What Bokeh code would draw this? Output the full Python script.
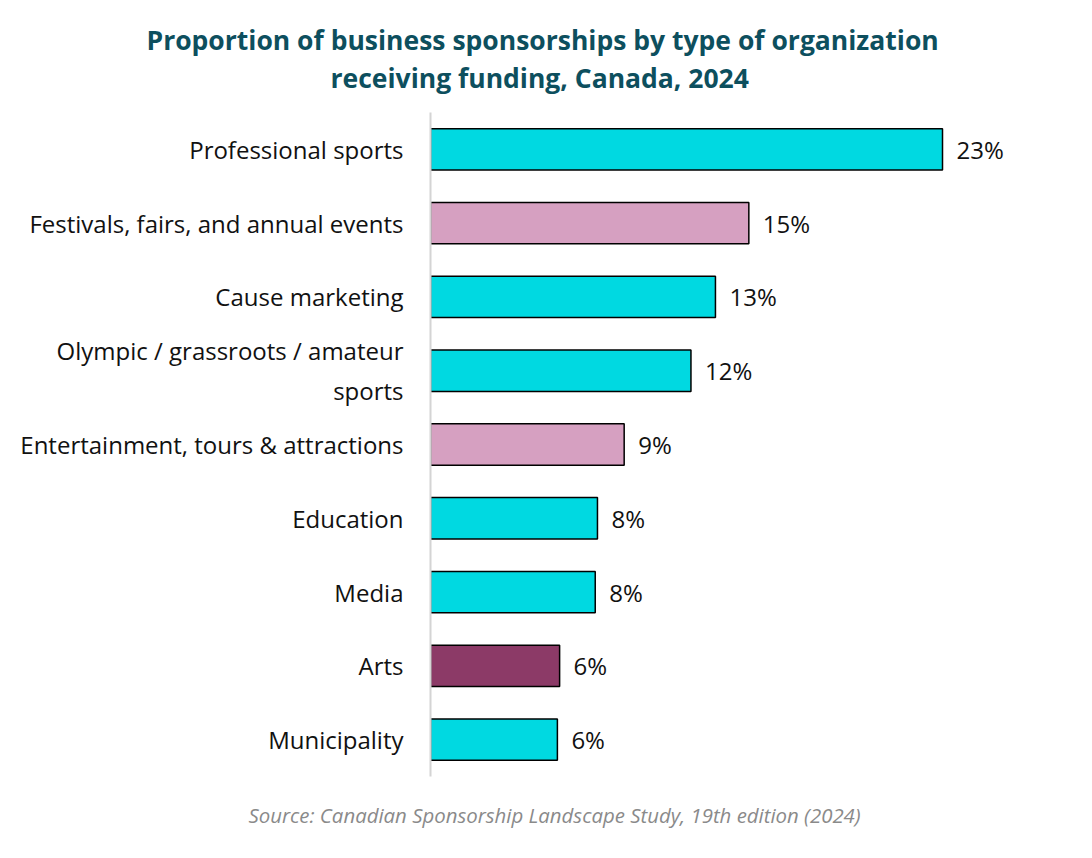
from bokeh.plotting import figure
from bokeh.models import FactorRange, Title, ColumnDataSource
from bokeh.core.properties import value
from bokeh.embed import file_html
from bokeh.resources import INLINE

# data (top to bottom)
categories = ["Professional sports", "Festivals, fairs, and annual events", "Cause marketing",
	"Olympic / grassroots / amateur\nsports", "Entertainment, tours & attractions",
	"Education", "Media", "Arts", "Municipality"]
shares = [23.0, 14.3, 12.8, 11.7, 8.7, 7.5, 7.4, 5.8, 5.7]
share_labels = ["23%", "15%", "13%", "12%", "9%", "8%", "8%", "6%", "6%"]
bar_colors = ["#00d9e1", "#d6a0c1", "#00d9e1", "#00d9e1", "#d6a0c1", "#00d9e1", "#00d9e1", "#8c3a67", "#00d9e1"]

title_lines = ["Proportion of business sponsorships by type of organization", "receiving funding, Canada, 2024"]
source_note = "Source: Canadian Sponsorship Landscape Study, 19th edition (2024)"

FONT = "Open Sans"

def main():
	src = ColumnDataSource(dict(cat=categories, val=shares, lab=share_labels, col=bar_colors))

	p = figure(width=1076, height=850, y_range=FactorRange(factors=list(reversed(categories))),
		x_range=(0, 28.3), output_backend="svg", toolbar_location=None, title=None,
		min_border_left=430, min_border_right=16, min_border_top=112, min_border_bottom=71)
	p.outline_line_color = None
	p.grid.visible = False
	p.xaxis.visible = False

	p.hbar(y="cat", right="val", left=0, height=0.56, source=src, fill_color="col",
		line_color="black", line_width=1.5)
	p.text(x="val", y="cat", text="lab", source=src, x_offset=14, text_align="left",
		text_baseline="middle", text_font=value(FONT), text_font_size="24px", text_color="#111111")

	yax = p.yaxis[0]
	yax.axis_line_color = "#d4d4d4"
	yax.axis_line_width = 2
	yax.major_tick_line_color = None
	yax.minor_tick_line_color = None
	yax.major_label_standoff = 21
	yax.major_label_text_font = FONT
	yax.major_label_text_font_size = "24px"
	yax.major_label_text_color = "#111111"

	# title lines (added bottom line first), offsets relative to the frame's left edge
	p.add_layout(Title(text=title_lines[1], align="left", offset=-100, standoff=33,
		text_font=FONT, text_font_style="bold", text_font_size="26.5px", text_color="#0d4f5e"), "above")
	p.add_layout(Title(text=title_lines[0], align="left", offset=-284, standoff=-32,
		text_font=FONT, text_font_style="bold", text_font_size="26.5px", text_color="#0d4f5e"), "above")
	p.add_layout(Title(text=source_note, align="left", offset=-182, standoff=44,
		text_font=FONT, text_font_style="italic", text_font_size="20.4px", text_color="#8a8a8a"), "below")

	open("out.html", "w").write(file_html(p, INLINE))

if __name__ == "__main__":
	main()
